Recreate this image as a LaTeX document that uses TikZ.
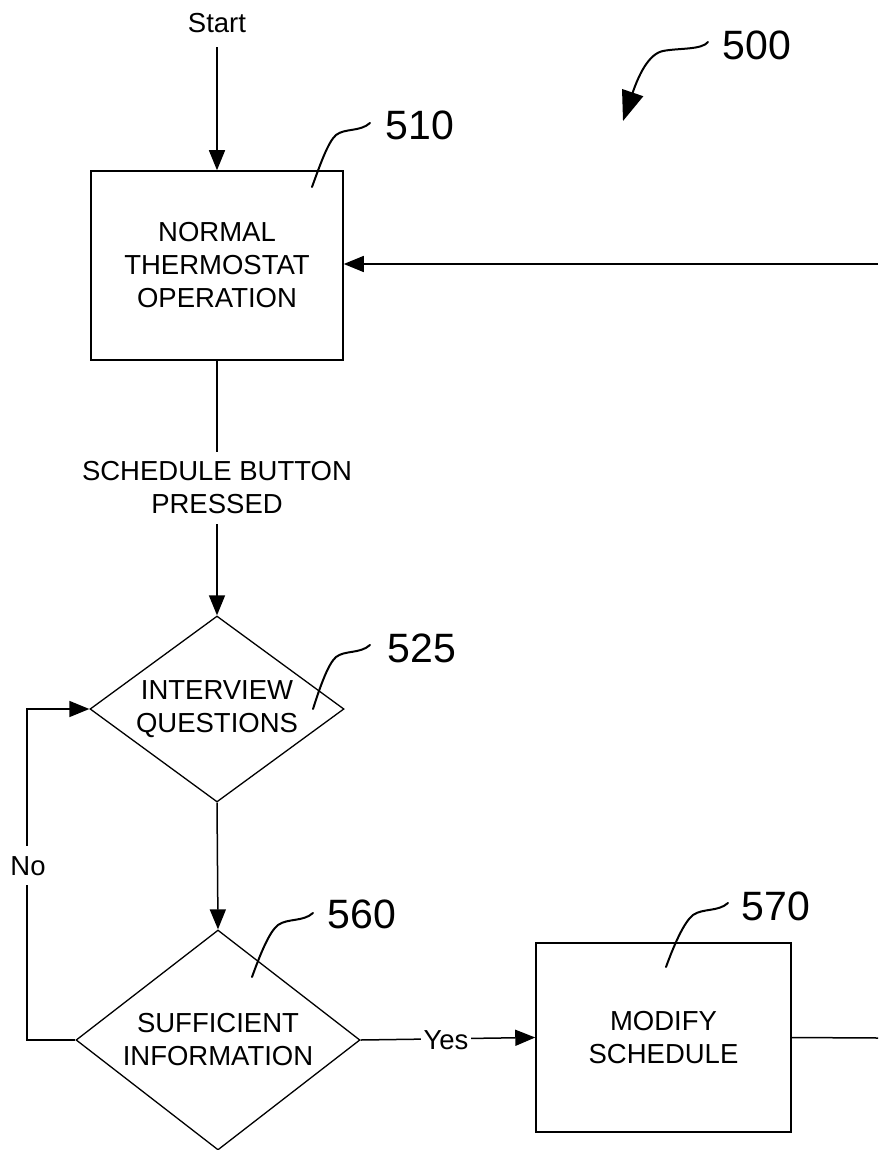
\documentclass[tikz,border=0pt]{standalone}
\usepackage{fontspec}
\setmainfont{Liberation Sans}
\usetikzlibrary{shapes.geometric,arrows.meta}
\begin{document}
\begin{tikzpicture}[x=1pt,y=-1pt,
  every node/.style={font=\fontsize{27.5}{33}\selectfont},
  box/.style={draw,line width=1.5pt,minimum width=252pt,minimum height=189pt,align=center,inner sep=0pt},
  dia/.style={draw,diamond,line width=1.3pt,align=center,inner sep=0pt},
  num/.style={font=\fontsize{41}{41}\selectfont,anchor=base,inner sep=0pt},
  lbl/.style={anchor=base,inner sep=0pt},
  arr/.style={line width=1.5pt,-{Triangle[length=20pt,width=16pt]}},
  conn/.style={line width=1.5pt},
  leader/.style={line width=2pt,line cap=round}]
\useasboundingbox (0,0) rectangle (878,1150);

% nodes
\node[lbl] (start) at (217,33) {Start};
\node[box] (b510) at (217,265.5) {NORMAL\\THERMOSTAT\\OPERATION};
\node[dia,minimum width=254pt,minimum height=186pt,aspect=1.37] (d525) at (217,709) {INTERVIEW\\QUESTIONS};
\node[dia,minimum width=284pt,minimum height=220pt,aspect=1.29] (d560) at (218,1040) {SUFFICIENT\\INFORMATION};
\node[box,minimum width=255pt] (b570) at (663.5,1037.5) {MODIFY\\SCHEDULE};

% free ends
\coordinate (rin) at (878,264);
\coordinate (rout) at (878,1038);
\coordinate (nocorner) at (27,1040);

% connectors
\draw[arr] ([yshift=-14pt]start.south) -- (b510.north);
\draw[arr] (rin) -- (b510.east |- rin);
\draw[arr] (b510.south) -- (d525.north);
\draw[arr] (d525.south) -- (d560.north);
\draw[arr] (d560.east) -- (b570.west);
\draw[arr] (d560.west) -- (nocorner) |- (d525.west);
\draw[conn] (b570.east) -- (rout);

% connector labels
\node[fill=white,align=center,inner xsep=2pt,inner ysep=10pt] (sched) at (217,488) {SCHEDULE BUTTON\\PRESSED};
\node[fill=white,anchor=base,inner xsep=3pt,inner ysep=2pt] (yes) at (446,1049) {Yes};
\node[fill=white,anchor=base,inner xsep=2pt,inner ysep=10pt] (no) at (28,875) {No};

% reference numerals
\node[num] (n500) at (757,60) {500};
\node[num] (n510) at (420,140) {510};
\node[num] (n525) at (422,662) {525};
\node[num] (n560) at (362,928) {560};
\node[num] (n570) at (776,920) {570};

% leader lines
\draw[leader,shift={(370,123)}] (0,0) .. controls (-10,9) and (-25,5) .. (-34,12) .. controls (-42,19) and (-50,42) .. (-58,64);
\draw[leader,shift={(370,645)}] (0,0) .. controls (-10,9) and (-25,5) .. (-34,12) .. controls (-42,19) and (-50,42) .. (-57,64);
\draw[leader,shift={(313,913)}] (0,0) .. controls (-10,9) and (-25,5) .. (-35,12) .. controls (-44,19) and (-53,42) .. (-61,64);
\draw[leader,shift={(728,903)}] (0,0) .. controls (-10,9) and (-25,5) .. (-35,12) .. controls (-44,19) and (-54,42) .. (-62,64);
\draw[leader,-{Triangle[length=30pt,width=22pt]},shift={(708,42)}] (0,0) .. controls (-6,8) and (-30,6) .. (-45,9) .. controls (-60,12) and (-70,35) .. (-85,79);
\end{tikzpicture}
\end{document}
